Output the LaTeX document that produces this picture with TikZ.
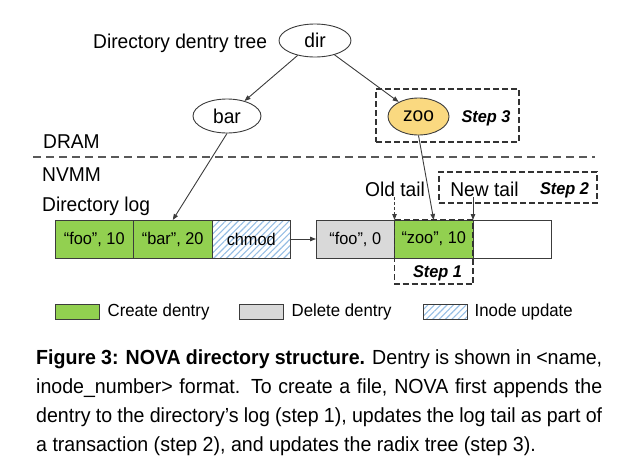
\documentclass[tikz,border=0pt]{standalone}
\usepackage{fontspec}
\setmainfont{Liberation Sans}[FakeStretch=0.96]
\usepackage{tikz}
\usetikzlibrary{
    arrows.meta,
    positioning,
    calc,
    shapes.geometric,
    patterns.meta
}
\definecolor{dentrygreen}{RGB}{146,208,80}
\definecolor{deletegray}{RGB}{217,217,217}
\definecolor{hatchblue}{RGB}{150,190,228}
\definecolor{zooyellow}{RGB}{250,217,128}
\definecolor{edgegray}{RGB}{60,60,60}
\tikzset{
    treenode/.style={
        draw=edgegray,
        ellipse,
        line width=0.9pt,
        inner sep=0pt,
        minimum width=68pt,
        minimum height=34pt,
        font=\fontsize{20}{24}\selectfont
    },
    logcell/.style={
        draw=edgegray,
        rectangle,
        line width=0.9pt,
        inner sep=0pt,
        outer sep=0pt,
        minimum width=78.5pt,
        minimum height=38pt,
        font=\fontsize{17}{20}\selectfont
    },
    inodefill/.style={
        pattern={Lines[angle=45,distance=4.5pt,line width=1.1pt]},
        pattern color=hatchblue
    },
    legbox/.style={
        draw=edgegray,
        rectangle,
        line width=0.9pt,
        minimum width=44pt,
        minimum height=15pt,
        inner sep=0pt
    },
    leglab/.style={
        font=\fontsize{17.5}{20}\selectfont,
        inner sep=0pt
    },
    lab/.style={
        font=\fontsize{20}{24}\selectfont,
        inner sep=0pt
    },
    steplab/.style={
        font=\fontsize{17}{20}\selectfont\bfseries\itshape,
        inner sep=0pt
    },
    arr/.style={
        -{Triangle[length=6pt,width=4.5pt]},
        line width=0.9pt,
        draw=edgegray
    }
}

\begin{document}
\begin{tikzpicture}[
    x=1pt, y=-1pt,
    stepbox/.style={
        draw=black!80,
        dash pattern=on 6pt off 3pt,
        line width=1.4pt
    },
    memline/.style={
        draw=black!65,
        dash pattern=on 8pt off 5pt,
        line width=1.3pt
    },
    caption/.style={
        font=\fontsize{20.4}{29}\selectfont,
        text width=566pt,
        align=justify,
        inner sep=0pt
    }
]
\useasboundingbox (0,0) rectangle (622,472);

\node[lab, anchor=base west] (treelab) at (93,48) {Directory dentry tree};
\node[treenode, minimum width=72pt, minimum height=33pt] (dir) at (315,40.5) {dir};
\node[treenode] (bar) at (227,116) {bar};
\node[treenode, fill=zooyellow, minimum width=61pt, minimum height=37pt] (zoo) at (418.5,116.5) {zoo};
\node[stepbox, minimum width=143pt, minimum height=53pt] (step3box) at (447.5,115.5) {};
\node[steplab] (step3) at (486,118) {Step 3};

\draw[arr] (dir) -- (bar);
\draw[arr] (dir) -- (zoo);

\node[lab, anchor=base west] (dram) at (43,148) {DRAM};
\draw[memline] (33,157) -- (595,157);
\node[lab, anchor=base west] (nvmm) at (42,181) {NVMM};
\node[lab, anchor=base west] (dirlog) at (42,211) {Directory log};

\node[logcell, fill=dentrygreen, anchor=north west] (c1) at (55,220) {“foo”, 10};
\node[logcell, fill=dentrygreen, right=0pt of c1] (c2) {“bar”, 20};
\node[logcell, inodefill, right=0pt of c2] (c3) {chmod};
\node[logcell, fill=deletegray, anchor=north west] (c4) at (316,220) {“foo”, 0};
\node[logcell, fill=dentrygreen, right=0pt of c4] (c5) {“zoo”, 10};
\node[logcell, right=0pt of c5] (c6) {};

\draw[arr] (c3) -- (c4);
\draw[arr] (bar.south) -- (c2.north);
\draw[arr] (zoo.south) -- (c5.north);

\coordinate (otail) at ([yshift=23pt]c5.north west);
\coordinate (ntail) at ([yshift=23pt]c5.north east);
\node[lab] (oldtail) at (395,189) {Old tail};
\draw[arr, dash pattern=on 3pt off 2pt] (otail) -- (c5.north west);

\node[stepbox, minimum width=158pt, minimum height=31pt] (step2box) at (518,187.5) {};
\node[lab] (newtail) at (484.5,189) {New tail};
\node[steplab] (step2) at (564.5,190) {Step 2};
\draw[arr] (ntail) -- (c5.north east);

\draw[stepbox] (c5.north west) rectangle ([yshift=-26pt]c5.south east);
\node[steplab] (step1) at (437.5,273) {Step 1};

\node[legbox, fill=dentrygreen] (lg1) at (77,311.5) {};
\node[leglab, right=8pt of lg1] (lt1) {Create dentry};
\node[legbox, fill=deletegray] (lg2) at (261,311.5) {};
\node[leglab, right=8pt of lg2] (lt2) {Delete dentry};
\node[legbox, inodefill] (lg3) at (445,311.5) {};
\node[leglab, right=7pt of lg3] (lt3) {Inode update};

\node[caption, anchor=north west] (cap) at (36,349.5) {\hyphenpenalty=10000\textbf{Figure 3: NOVA directory structure.} Dentry is shown in <name,\linebreak inode\_number> format.  To create a file, NOVA first appends the\linebreak dentry to the directory’s log (step 1), updates the log tail as part of\linebreak a transaction (step 2), and updates the radix tree (step 3).};

\end{tikzpicture}
\end{document}
